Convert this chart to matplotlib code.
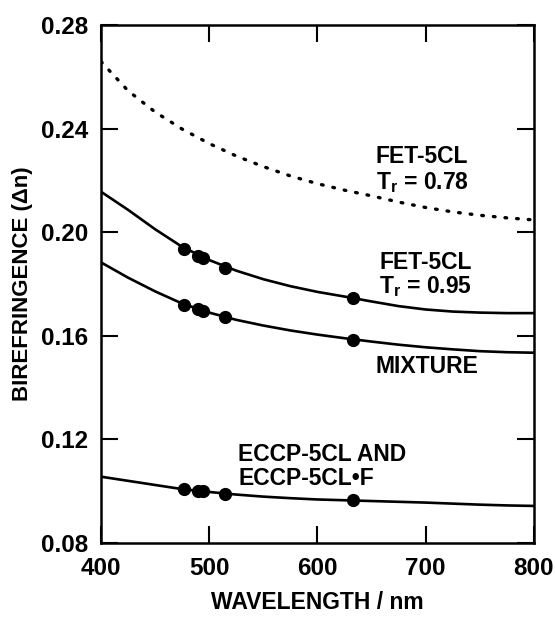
import matplotlib.pyplot as plt

plt.rcParams['font.family'] = ['Liberation Sans', 'DejaVu Sans']
plt.rcParams['font.weight'] = 'bold'
plt.rcParams['mathtext.fontset'] = 'custom'
plt.rcParams['mathtext.bf'] = 'Liberation Sans:bold'
plt.rcParams['mathtext.rm'] = 'Liberation Sans:bold'

comprimentos = [400, 425, 450, 475, 500, 525, 550, 575, 600, 625, 650, 675, 700, 725, 750, 775, 800]
fet_078 = [0.2660, 0.2547, 0.2465, 0.2399, 0.2343, 0.2295, 0.2254, 0.2218, 0.2188,
           0.2163, 0.2141, 0.2117, 0.2096, 0.2079, 0.2066, 0.2056, 0.2048]
fet_095 = [0.2157, 0.2087, 0.2012, 0.1944, 0.1893, 0.1852, 0.1819, 0.1792, 0.1770,
           0.1752, 0.1733, 0.1715, 0.1702, 0.1694, 0.1690, 0.1688, 0.1688]
mistura = [0.1884, 0.1825, 0.1772, 0.1725, 0.1690, 0.1662, 0.1640, 0.1621, 0.1605,
           0.1591, 0.1578, 0.1566, 0.1556, 0.1548, 0.1541, 0.1537, 0.1535]
eccp = [0.1056, 0.1040, 0.1024, 0.1008, 0.0997, 0.0987, 0.0979, 0.0973, 0.0968,
        0.0965, 0.0962, 0.0959, 0.0956, 0.0952, 0.0948, 0.0945, 0.0943]

# pontos medidos
comp_medidos = [476.5, 490, 494, 514.5, 632.8]
fet_095_med = [0.1937, 0.1907, 0.1902, 0.1864, 0.1747]
mistura_med = [0.1721, 0.1704, 0.1698, 0.1672, 0.1586]
eccp_med = [0.1007, 0.1001, 0.0999, 0.0991, 0.0965]

x_ticks = [400, 500, 600, 700, 800]
y_ticks = [0.08, 0.12, 0.16, 0.20, 0.24, 0.28]

fig = plt.figure(figsize=(5.55, 6.17), dpi=100)
ax = fig.add_axes([0.182, 0.120, 0.780, 0.839])

ax.plot(comprimentos, fet_078, color='black', linewidth=2.4,
        linestyle=(0, (0.5, 3.0)), dash_capstyle='round')
for serie in (fet_095, mistura, eccp):
    ax.plot(comprimentos, serie, color='black', linewidth=1.9)
for serie in (fet_095_med, mistura_med, eccp_med):
    ax.plot(comp_medidos, serie, 'o', color='black', markersize=8.5)

fs = 16.5
ax.text(654, 0.2293, 'FET-5CL', fontsize=fs, fontweight='bold', va='center')
ax.text(654, 0.2193, r'$\mathbf{T_r}$ = 0.78', fontsize=fs, fontweight='bold', va='center')
ax.text(657, 0.1883, 'FET-5CL', fontsize=fs, fontweight='bold', va='center')
ax.text(657, 0.1792, r'$\mathbf{T_r}$ = 0.95', fontsize=fs, fontweight='bold', va='center')
ax.text(654, 0.1483, 'MIXTURE', fontsize=fs, fontweight='bold', va='center')
ax.text(527, 0.1142, 'ECCP-5CL AND', fontsize=fs, fontweight='bold', va='center')
ax.text(527, 0.1050, 'ECCP-5CL\u2022F', fontsize=fs, fontweight='bold', va='center')

ax.set_xlim(400, 800)
ax.set_ylim(0.08, 0.28)
ax.set_xticks(x_ticks)
ax.set_yticks(y_ticks)
ax.set_xticklabels([str(v) for v in x_ticks])
ax.set_yticklabels([f'{v:.2f}' for v in y_ticks])
ax.tick_params(direction='in', length=12.5, width=1.5, top=True, right=True,
               labelsize=17.5)
ax.tick_params(axis='x', pad=10)
ax.tick_params(axis='y', pad=9)
for lado in ax.spines.values():
    lado.set_linewidth(1.8)

ax.set_xlabel('WAVELENGTH / nm', fontsize=16.5, fontweight='bold', labelpad=8)
ax.set_ylabel('BIREFRINGENCE (\u0394n)', fontsize=16, fontweight='bold', labelpad=6)

fig.savefig('out.png', dpi=100)
